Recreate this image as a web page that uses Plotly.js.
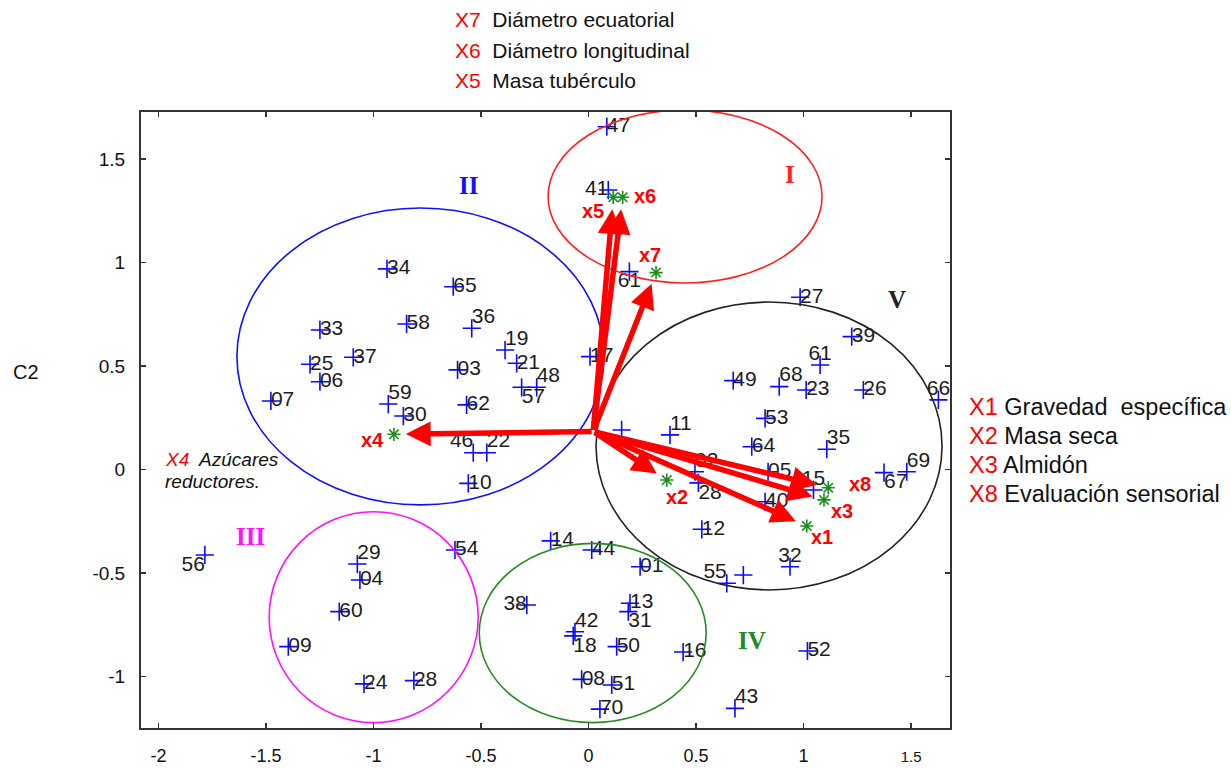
<!DOCTYPE html>
<html><head><meta charset="utf-8">
<script src="https://cdn.plot.ly/plotly-3.0.1.min.js"></script>
<style>html,body{margin:0;padding:0;background:#fff}#chart{width:1231px;height:769px}</style>
</head><body><div id="chart"></div>
<script>
// ---- Individuals (scores on C1, C2) ----
const pointLabels = ['47','41','61','34','65','33','58','36','19','21','17','25','37','06','03','57','48','07','59','30','62','46','22','10',
  '27','39','61','49','68','23','26','66','53','35','','11','64','02','28','05','15','40','12','32','55','','69','67',
  '56','29','04','60','09','24','28','54',
  '14','44','01','38','13','31','42','18','50','16','08','51','70','52','43'];
const pointX = [0.085,0.092,0.190,-0.937,-0.629,-1.249,-0.846,-0.543,-0.388,-0.334,0.007,-1.295,-1.094,-1.249,-0.609,-0.311,-0.241,-1.477,-0.931,-0.861,-0.567,-0.536,-0.473,-0.559,
  0.984,1.224,1.077,0.673,0.887,1.012,1.278,1.627,0.821,1.108,0.154,0.379,0.759,0.495,0.511,0.835,1.046,0.821,0.527,0.937,0.643,0.720,1.480,1.374,
  -1.784,-1.075,-1.063,-1.159,-1.396,-1.044,-0.812,-0.621,
  -0.176,0.015,0.240,-0.287,0.193,0.185,-0.063,-0.071,0.131,0.440,-0.032,0.108,0.053,1.018,0.681];
const pointY = [1.656,1.350,0.956,0.969,0.883,0.674,0.703,0.682,0.577,0.513,0.545,0.508,0.542,0.424,0.481,0.397,0.397,0.331,0.316,0.258,0.312,0.081,0.081,-0.067,
  0.832,0.642,0.505,0.429,0.400,0.384,0.384,0.336,0.247,0.098,0.191,0.167,0.110,-0.011,-0.065,-0.011,-0.099,-0.156,-0.289,-0.470,-0.550,-0.510,-0.011,-0.015,
  -0.413,-0.457,-0.534,-0.687,-0.856,-1.036,-1.020,-0.389,
  -0.345,-0.389,-0.470,-0.655,-0.646,-0.687,-0.784,-0.804,-0.856,-0.882,-1.014,-1.041,-1.158,-0.877,-1.154];
// label placement (style only)
const MR='middle right', TR='top right', BR='bottom right', TL='top left', ML='middle left', TC='top center', BC='bottom center', BL='bottom left';
const labelPos = [MR,ML,BC,MR,MR,MR,MR,TR,TR,MR,MR,MR,MR,MR,MR,BR,TR,MR,TR,MR,MR,TL,TR,MR,
  MR,MR,TC,MR,TR,MR,MR,TC,MR,TR,MR,TR,MR,TR,BR,MR,TC,MR,MR,TC,TL,MR,TR,BR,
  BL,TR,MR,MR,MR,MR,MR,MR,
  MR,MR,MR,ML,MR,BR,TR,BR,MR,MR,MR,MR,MR,MR,TR];

// ---- Variables (loadings) ----
const varNames = ['x1','x2','x3','x4','x5','x6','x7','x8'];
const varX = [1.015,0.364,1.095,-0.905,0.115,0.159,0.314,1.115];
const varY = [-0.273,-0.051,-0.147,0.170,1.315,1.315,0.951,-0.088];
const originX = 0.022, originY = 0.183;
// label offsets in px (style only)
const varLabDX = [15,10,18,-21,-20,22,-6,32];
const varLabDY = [-11,-17,-11,-6,-14,1,18,4];

// ---- Groups (ellipses) ----
const groupNames = ['I','II','III','IV','V'];
const groupX0 = [-0.188,-1.635,-1.485,-0.508,0.035];
const groupX1 = [1.086,0.072,-0.513,0.547,1.644];
const groupY0 = [0.901,-0.171,-1.223,-1.223,-0.582];
const groupY1 = [1.737,1.263,-0.204,-0.357,0.809];
const groupLabX = [0.937,-0.560,-1.574,0.760,1.435];
const groupLabY = [1.423,1.374,-0.326,-0.824,0.819];
const groupColors = ['#ff2020','#1010ff','#ff10ff','#228b22','#222222'];

// ---- Axis ticks ----
const xTicks = [-2,-1.5,-1,-0.5,0,0.5,1,1.5];
const xTickText = ['-2','-1.5','-1','-0.5','0','0.5','1','<span style="font-size:15px">1.5</span>'];
const yTicks = [-1,-0.5,0,0.5,1,1.5];
const yTickText = ['-1','-0.5','0','0.5','1','1.5'];

// ---- Legend texts ----
const topLegend = [['X7','Diámetro ecuatorial'],['X6','Diámetro longitudinal'],['X5','Masa tubérculo']];
const rightLegend = [['X1','Gravedad  específica'],['X2','Masa seca'],['X3','Almidón'],['X8','Evaluación sensorial']];

const FONT = 'Liberation Sans, Arial, Helvetica, sans-serif';
const SERIF = 'Liberation Serif, Times New Roman, serif';

const traces = [
  {type:'scatter', mode:'markers', x:pointX, y:pointY, hoverinfo:'skip',
   marker:{symbol:'cross-thin', size:13, line:{width:1.6, color:'#0a0aff'}, color:'#0a0aff'}},
  {type:'scatter', mode:'text', x:pointX, y:pointY, text:pointLabels, textposition:labelPos,
   textfont:{family:FONT, size:21, color:'#1c1c1c'}, marker:{size:1}, hoverinfo:'skip'},
];

const shapes = groupNames.map((g,i)=>({type:'circle', xref:'x', yref:'y',
  x0:groupX0[i], x1:groupX1[i], y0:groupY0[i], y1:groupY1[i],
  line:{color:groupColors[i], width:1.6}, layer:'above'}));

const annotations = [];
// arrows
varNames.forEach((v,i)=>{
  annotations.push({x:varX[i], y:varY[i], ax:originX, ay:originY, xref:'x', yref:'y', axref:'x', ayref:'y',
    text:'', showarrow:true, arrowhead:2, arrowsize:0.9, arrowwidth:5.5, arrowcolor:'#ff0000', standoff:12});
});
// variable labels
varNames.forEach((v,i)=>{
  annotations.push({x:varX[i], y:varY[i], xref:'x', yref:'y', text:'<b>'+v+'</b>', showarrow:false,
    xshift:varLabDX[i], yshift:varLabDY[i], font:{family:FONT, size:20, color:'#ff0000'}});
});
// group labels
groupNames.forEach((g,i)=>{
  annotations.push({x:groupLabX[i], y:groupLabY[i], xref:'x', yref:'y', text:'<b>'+g+'</b>', showarrow:false,
    font:{family:SERIF, size:25, color:groupColors[i]}});
});
// X4 note
annotations.push({x:-1.979, y:0.046, xref:'x', yref:'y', xanchor:'left', showarrow:false,
  text:'<i><span style="color:#ff0000">X4</span>  Azúcares</i>', font:{family:FONT, size:19, color:'#111'}});
annotations.push({x:-1.979, y:-0.056, xref:'x', yref:'y', xanchor:'left', showarrow:false,
  text:'<i>reductores.</i>', font:{family:FONT, size:19, color:'#111'}});
// top legend
const topY = [1.1494, 1.1006, 1.0519];
topLegend.forEach((t,i)=>{
  annotations.push({xref:'paper', yref:'paper', x:0.3857, y:topY[i], xanchor:'left', yanchor:'middle', showarrow:false,
    text:'<span style="color:#ff0000">'+t[0]+'</span>  '+t[1], font:{family:FONT, size:21, color:'#111'}});
});
// right legend
const rightY = [0.521, 0.474, 0.427, 0.380];
rightLegend.forEach((t,i)=>{
  annotations.push({xref:'paper', yref:'paper', x:1.021, y:rightY[i], xanchor:'left', yanchor:'middle', showarrow:false,
    text:'<span style="color:#ff0000">'+t[0]+'</span> '+t[1], font:{family:FONT, size:23.5, color:'#111'}});
});
// C2 axis label
annotations.push({xref:'paper', yref:'paper', x:-0.142, y:0.578, xanchor:'center', yanchor:'middle', showarrow:false,
  text:'C2', font:{family:FONT, size:20, color:'#111'}});

const layout = {
  width:1231, height:769, margin:{l:141, r:281, t:112, b:41},
  paper_bgcolor:'#fff', plot_bgcolor:'#fff', showlegend:false,
  xaxis:{range:[-2.081,1.681], tickvals:xTicks, ticktext:xTickText, ticks:'inside', ticklen:5, tickwidth:1.5, tickcolor:'#333',
    showline:true, linecolor:'#333', linewidth:2, mirror:'ticks', showgrid:false, zeroline:false,
    tickfont:{family:FONT, size:18, color:'#111'}, ticklabelstandoff:10},
  yaxis:{range:[-1.249,1.727], tickvals:yTicks, ticktext:yTickText, ticks:'inside', ticklen:5, tickwidth:1.5, tickcolor:'#333',
    showline:true, linecolor:'#333', linewidth:2, mirror:'ticks', showgrid:false, zeroline:false,
    tickfont:{family:FONT, size:19, color:'#111'}, ticklabelstandoff:10},
  shapes:shapes, annotations:annotations
};

traces.push({type:'scatter', mode:'markers', x:varX, y:varY, hoverinfo:'skip',
  marker:{symbol:'asterisk', size:11, line:{width:1.6, color:'#1a8f1a'}, color:'#1a8f1a'}});

Plotly.newPlot('chart', traces, layout, {staticPlot:true, displayModeBar:false});
</script></body></html>
